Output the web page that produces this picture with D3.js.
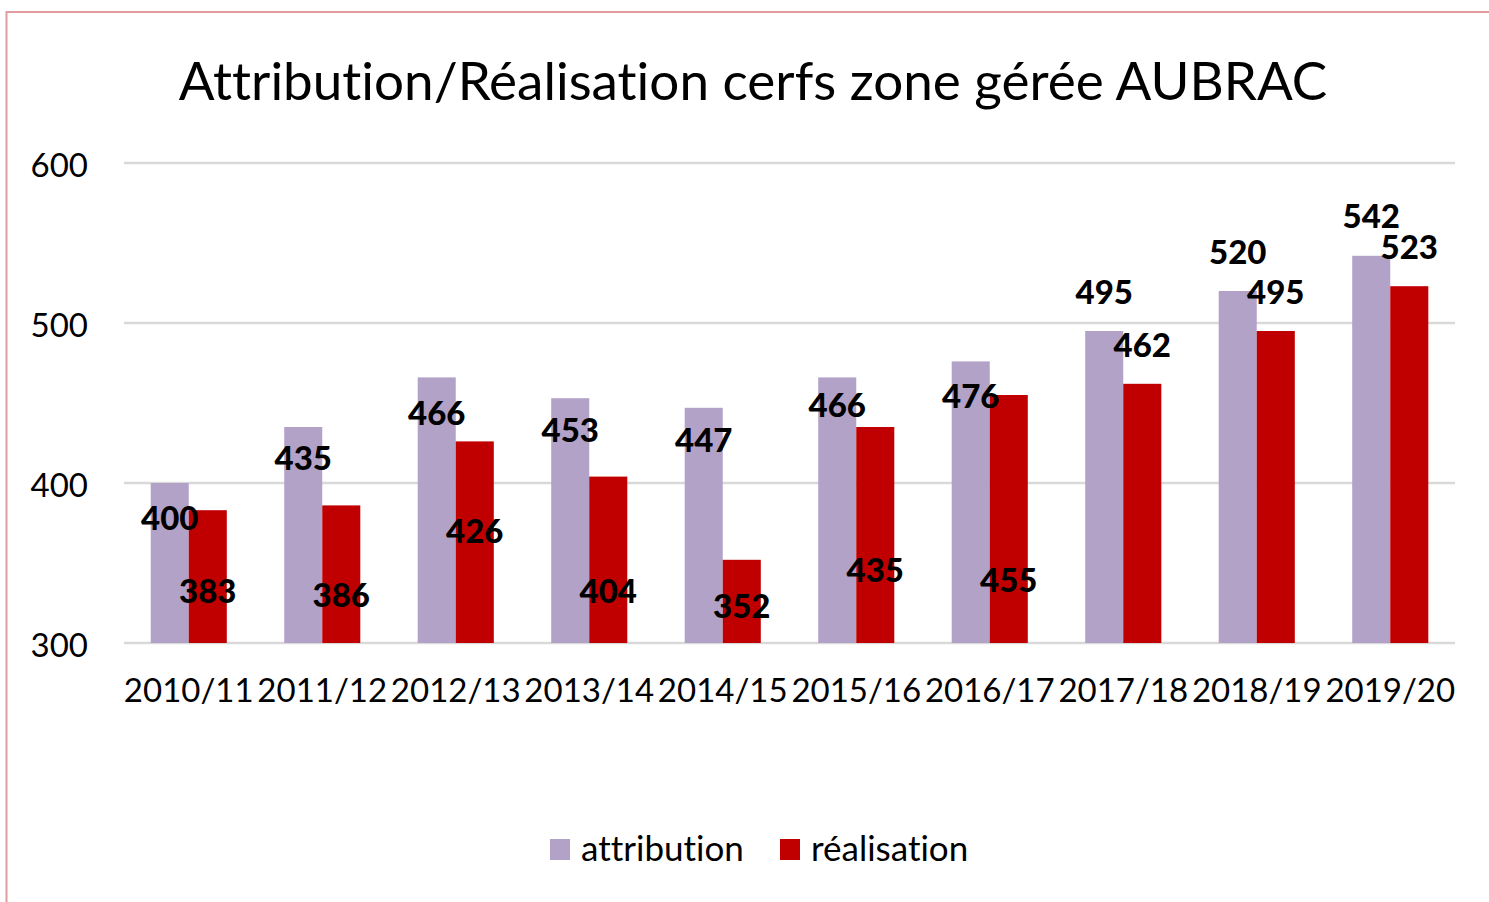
<!DOCTYPE html>
<html>
<head>
<meta charset="utf-8">
<script src="https://d3js.org/d3.v7.min.js"></script>
<style>
  body { margin: 0; background: #fff; }
  text { font-family: Lato, "Open Sans", sans-serif; font-variant-ligatures: none; }
</style>
</head>
<body>
<div id="my_dataviz"></div>
<script>
// data
var seasons = ["2010/11", "2011/12", "2012/13", "2013/14", "2014/15",
               "2015/16", "2016/17", "2017/18", "2018/19", "2019/20"];
var attribution = [400, 435, 466, 453, 447, 466, 476, 495, 520, 542];
var realisation = [383, 386, 426, 404, 352, 435, 455, 462, 495, 523];
var yTicks = [300, 400, 500, 600];
var seriesNames = ["attribution", "réalisation"];

// labels were nudged by hand in the original, pixel offsets from bar top to baseline
var attrLabelDy = [47, 43, 48, 44, 44, 40, 47, -27, -27, -28];
var realLabelDy = [93, 102, 102, 126, 58, 155, 197, -27, -27, -27];

var W = 1489, H = 902;
var margin = {top: 163, right: 34, bottom: 259, left: 124},
    width = W - margin.left - margin.right,
    height = H - margin.top - margin.bottom;

var svg = d3.select("#my_dataviz")
  .append("svg")
    .attr("width", W)
    .attr("height", H);

// chart frame
svg.append("rect")
  .attr("x", 6.5).attr("y", 12)
  .attr("width", W + 20).attr("height", H + 20)
  .attr("fill", "none")
  .attr("stroke", "#e09c9e")
  .attr("stroke-width", 2);

// title
svg.append("text")
  .attr("x", 753)
  .attr("y", 100)
  .attr("text-anchor", "middle")
  .style("font-size", "53px")
  .text("Attribution/Réalisation cerfs zone gérée AUBRAC");

var g = svg.append("g")
  .attr("transform", "translate(" + margin.left + "," + margin.top + ")");

var x = d3.scaleBand()
  .domain(seasons)
  .range([0, width])
  .paddingInner(0.43)
  .paddingOuter(0.2);

var x1 = d3.scaleBand()
  .domain(seriesNames)
  .range([0, x.bandwidth()]);

var y = d3.scaleLinear()
  .domain([300, 600])
  .range([height, 0]);

var color = d3.scaleOrdinal()
  .domain(seriesNames)
  .range(["#b3a2c7", "#c00000"]);

// gridlines
g.append("g")
  .selectAll("line")
  .data(yTicks)
  .enter().append("line")
    .attr("x1", 0).attr("x2", width)
    .attr("y1", function(d) { return y(d); })
    .attr("y2", function(d) { return y(d); })
    .attr("stroke", "#d9d9d9")
    .attr("stroke-width", 2.5);

// y axis labels
var yAxis = g.append("g")
  .call(d3.axisLeft(y).tickValues(yTicks).tickSize(0).tickPadding(36));
yAxis.select(".domain").remove();
yAxis.selectAll("text")
  .attr("y", 3)
  .style("font-family", "Lato, 'Open Sans', sans-serif")
  .style("font-size", "33px")
  .attr("fill", "#000");

// x axis labels
var xAxis = g.append("g")
  .attr("transform", "translate(0," + height + ")")
  .call(d3.axisBottom(x).tickSize(0).tickPadding(36));
xAxis.select(".domain").remove();
xAxis.selectAll("text")
  .style("font-family", "Lato, 'Open Sans', sans-serif")
  .style("font-size", "33px")
  .attr("fill", "#000");

var rows = seasons.map(function(s, i) {
  return {season: s, values: [
    {key: "attribution", value: attribution[i], dy: attrLabelDy[i]},
    {key: "réalisation", value: realisation[i], dy: realLabelDy[i]}
  ]};
});

var groups = g.append("g")
  .selectAll("g")
  .data(rows)
  .enter().append("g")
    .attr("transform", function(d) { return "translate(" + x(d.season) + ",0)"; });

groups.selectAll("rect")
  .data(function(d) { return d.values; })
  .enter().append("rect")
    .attr("x", function(d) { return x1(d.key); })
    .attr("width", x1.bandwidth())
    .attr("y", function(d) { return y(d.value); })
    .attr("height", function(d) { return height - y(d.value); })
    .attr("fill", function(d) { return color(d.key); });

// data labels
groups.selectAll(".lbl")
  .data(function(d) { return d.values; })
  .enter().append("text")
    .attr("class", "lbl")
    .attr("x", function(d) { return x1(d.key) + x1.bandwidth() / 2; })
    .attr("y", function(d) { return y(d.value) + d.dy; })
    .attr("text-anchor", "middle")
    .style("font-size", "33px")
    .style("font-weight", "900")
    .text(function(d) { return d.value; });

// legend
var legendX = [550, 780];
var legend = svg.selectAll(".legend")
  .data(seriesNames)
  .enter().append("g")
    .attr("class", "legend")
    .attr("transform", function(d, i) { return "translate(" + legendX[i] + ",839)"; });

legend.append("rect")
  .attr("width", 20)
  .attr("height", 21)
  .attr("fill", color);

legend.append("text")
  .attr("x", 31)
  .attr("y", 22)
  .style("font-size", "35px")
  .text(function(d) { return d; });
</script>
</body>
</html>
